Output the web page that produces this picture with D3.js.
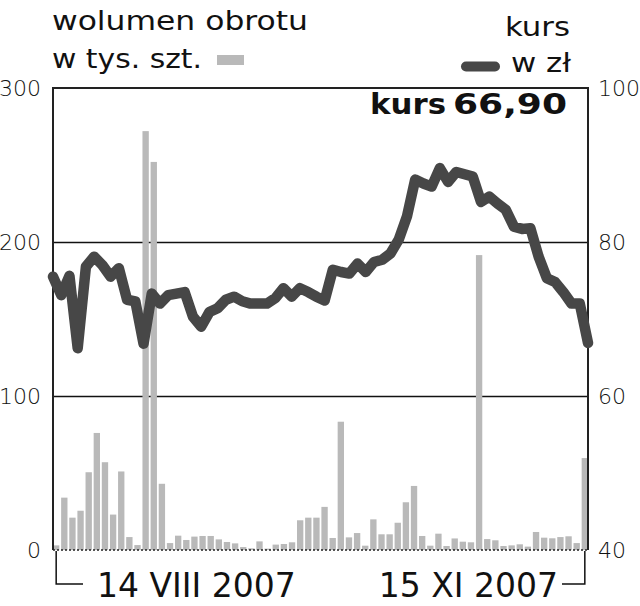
<!DOCTYPE html>
<html>
<head>
<meta charset="utf-8">
<script src="https://cdn.jsdelivr.net/npm/d3@7"></script>
<style>
body { margin: 0; background: #fff; }
text { font-family: "DejaVu Sans", sans-serif; fill: #111; }
.tickText text { font-size: 22px; font-weight: 300; }
.legendText { font-size: 26px; }
.dateText { font-size: 33px; }
</style>
</head>
<body>
<div id="chart"></div>
<script>
// volume (thousand shares), one bar per session, 14 VIII 2007 .. 15 XI 2007
var volume = [3, 34, 21, 25.5, 50.5, 76, 57, 23, 51, 8.4, 3.2, 272, 252, 43, 4.5, 9.3,
	6.5, 8.7, 9.1, 9.1, 6.9, 5.2, 4.3, 1.9, 1.1, 5.6, 0.9, 3.5, 3.9, 5, 19.3, 21,
	21, 28, 7.8, 83.3, 8.2, 11, 2.8, 19.9, 10.2, 10.2, 17.7, 31, 41.6, 9.1, 2.8, 10.6,
	2.6, 7.5, 5.4, 5, 191.5, 7.1, 6.3, 2.6, 3, 3.7, 2.2, 11.7, 8, 7.6, 8.4, 8.9, 4.5, 59.7];

// closing price in zl
var price = [75.5, 73.1, 75.6, 66.2, 76.8, 78.1, 77.0, 75.5, 76.6, 72.5, 72.3, 66.8, 73.3, 72.0, 73.1, 73.3,
	73.5, 70.3, 69.0, 70.9, 71.4, 72.5, 72.9, 72.3, 72.0, 72.0, 72.0, 72.7, 74.0, 72.9, 74.0, 73.5,
	72.9, 72.4, 76.4, 76.1, 75.9, 77.2, 76.1, 77.4, 77.7, 78.5, 80.3, 83.3, 88.1, 87.6, 87.2, 89.6,
	87.8, 89.1, 88.8, 88.5, 85.2, 85.9, 85.0, 84.2, 82.0, 81.7, 81.8, 78.1, 75.3, 74.8, 73.5, 72.0,
	72.0, 66.9];

var volTicks = [0, 100, 200, 300];
var priceTicks = [40, 60, 80, 100];
var gridTicks = [100, 200];
var dateLabels = [{ index: 0, label: "14 VIII 2007" }, { index: 65, label: "15 XI 2007" }];
var lastPrice = "66,90";

var W = 640, H = 606;
var plotLeft = 53, plotRight = 588, plotTop = 88, plotBottom = 550;

var svg = d3.select("#chart").append("svg")
	.attr("width", W)
	.attr("height", H);

//scales
var xBand = d3.scaleBand()
	.domain(d3.range(volume.length))
	.range([plotLeft, plotRight])
	.paddingInner(0.22)
	.paddingOuter(0);

var xPoint = d3.scalePoint()
	.domain(d3.range(price.length))
	.range([plotLeft, plotRight]);

var yVol = d3.scaleLinear().domain([0, 300]).range([plotBottom, plotTop]);
var yPrice = d3.scaleLinear().domain([40, 100]).range([plotBottom, plotTop]);

//gridlines
svg.append("g")
	.attr("transform", "translate(" + plotLeft + ",0)")
	.call(d3.axisLeft(yVol).tickValues(gridTicks).tickSize(-(plotRight - plotLeft)).tickFormat(""))
	.call(function(g) {
		g.select(".domain").remove();
		g.selectAll("line").attr("stroke", "#111").attr("stroke-width", 1.5);
	});

//bars
svg.append("g").selectAll("rect")
	.data(volume)
	.enter().append("rect")
	.attr("x", function(d, i) { return xBand(i); })
	.attr("y", function(d) { return yVol(d); })
	.attr("width", xBand.bandwidth())
	.attr("height", function(d) { return yVol(0) - yVol(d); })
	.attr("fill", "#b9b9b9");

//dotted zero line
svg.append("line")
	.attr("x1", plotLeft).attr("x2", plotRight)
	.attr("y1", yVol(0)).attr("y2", yVol(0))
	.attr("stroke", "#222")
	.attr("stroke-width", 1.5)
	.attr("stroke-dasharray", "2,2");

//frame
svg.append("path")
	.attr("d", "M" + plotLeft + "," + plotBottom + "V" + plotTop + "H" + plotRight + "V" + plotBottom)
	.attr("fill", "none")
	.attr("stroke", "#222")
	.attr("stroke-width", 2);

//price line
var line = d3.line()
	.x(function(d, i) { return xPoint(i); })
	.y(function(d) { return yPrice(d); });

svg.append("path")
	.datum(price)
	.attr("d", line)
	.attr("fill", "none")
	.attr("stroke", "#474747")
	.attr("stroke-width", 10.5)
	.attr("stroke-linejoin", "round")
	.attr("stroke-linecap", "round");

//axes labels
svg.append("g")
	.attr("class", "tickText")
	.attr("transform", "translate(" + plotLeft + ",0)")
	.call(d3.axisLeft(yVol).tickValues(volTicks).tickSize(0).tickPadding(12))
	.call(function(g) { g.select(".domain").remove(); });

svg.append("g")
	.attr("class", "tickText")
	.attr("transform", "translate(" + plotRight + ",0)")
	.call(d3.axisRight(yPrice).tickValues(priceTicks).tickSize(0).tickPadding(10))
	.call(function(g) { g.select(".domain").remove(); });

svg.selectAll(".tickText text").attr("fill", "#111").style("font-family", "DejaVu Sans");

//date brackets
var firstX = xBand(dateLabels[0].index) + xBand.bandwidth() / 2;
var lastX = xBand(dateLabels[1].index) + xBand.bandwidth() / 2;

svg.append("path")
	.attr("d", "M" + firstX + "," + (plotBottom + 1) + "V584H83")
	.attr("fill", "none").attr("stroke", "#111").attr("stroke-width", 1.5);
svg.append("path")
	.attr("d", "M" + lastX + "," + (plotBottom + 1) + "V584H562")
	.attr("fill", "none").attr("stroke", "#111").attr("stroke-width", 1.5);

svg.append("text")
	.attr("class", "dateText")
	.attr("x", 97).attr("y", 597)
	.text(dateLabels[0].label);
svg.append("text")
	.attr("class", "dateText")
	.attr("x", 558).attr("y", 597)
	.attr("text-anchor", "end")
	.text(dateLabels[1].label);

//legend: volume
svg.append("text")
	.attr("class", "legendText")
	.attr("x", 52).attr("y", 30)
	.attr("textLength", 256).attr("lengthAdjust", "spacingAndGlyphs")
	.text("wolumen obrotu");
svg.append("text")
	.attr("class", "legendText")
	.attr("x", 52).attr("y", 68)
	.attr("textLength", 150).attr("lengthAdjust", "spacingAndGlyphs")
	.text("w tys. szt.");
svg.append("rect")
	.attr("x", 217).attr("y", 55)
	.attr("width", 27).attr("height", 10)
	.attr("fill", "#b9b9b9");

//legend: price
svg.append("text")
	.attr("class", "legendText")
	.attr("x", 505).attr("y", 36)
	.attr("textLength", 65).attr("lengthAdjust", "spacingAndGlyphs")
	.text("kurs");
svg.append("text")
	.attr("class", "legendText")
	.attr("x", 511).attr("y", 72)
	.attr("textLength", 60).attr("lengthAdjust", "spacingAndGlyphs")
	.text("w zł");
svg.append("line")
	.attr("x1", 466).attr("x2", 495)
	.attr("y1", 66.5).attr("y2", 66.5)
	.attr("stroke", "#474747")
	.attr("stroke-width", 10)
	.attr("stroke-linecap", "round");

//current price
svg.append("text")
	.attr("x", 370).attr("y", 114)
	.style("font-size", "28px").style("font-weight", "bold")
	.attr("textLength", 76).attr("lengthAdjust", "spacingAndGlyphs")
	.text("kurs");
svg.append("text")
	.attr("x", 453).attr("y", 114)
	.style("font-size", "28px").style("font-weight", "bold")
	.attr("textLength", 114).attr("lengthAdjust", "spacingAndGlyphs")
	.text(lastPrice);
</script>
</body>
</html>
